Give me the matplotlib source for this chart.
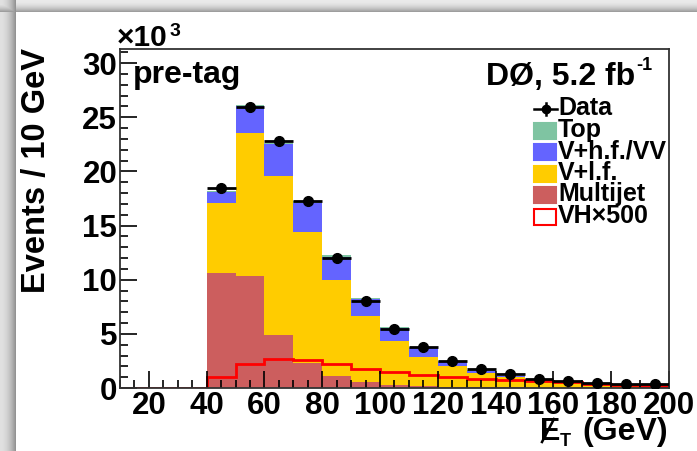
import numpy as np
import matplotlib.pyplot as plt
from matplotlib.patches import Rectangle
from matplotlib.lines import Line2D
from matplotlib.ticker import MultipleLocator

plt.rcParams['font.family'] = ['Liberation Sans', 'DejaVu Sans']
plt.rcParams['font.weight'] = 'bold'

# MET bins (GeV), event counts in units of 10^3
edges = np.arange(40, 201, 10)
data = [18.5, 25.9, 22.8, 17.3, 12.0, 8.06, 5.45, 3.76, 2.49, 1.73, 1.27, 0.86, 0.66, 0.5, 0.41, 0.35]
multijet = [10.6, 10.35, 4.9, 2.28, 1.14, 0.58, 0.25, 0.15, 0.10, 0.07, 0.05, 0.04, 0.03, 0.02, 0.02, 0.01]
vlf = [6.45, 13.15, 14.7, 12.12, 8.83, 6.07, 4.12, 2.68, 1.93, 1.3, 0.92, 0.71, 0.52, 0.40, 0.33, 0.29]
vhf = [1.05, 2.5, 2.9, 2.7, 2.13, 1.55, 1.13, 0.83, 0.37, 0.23, 0.12, 0.08, 0.07, 0.05, 0.04, 0.03]
top = [0.1, 0.15, 0.15, 0.15, 0.2, 0.14, 0.1, 0.09, 0.07, 0.05, 0.04, 0.03, 0.02, 0.02, 0.01, 0.01]
vh_edges = np.arange(10, 201, 10)
vh500 = [0, 0, 0, 1.04, 2.19, 2.71, 2.59, 2.22, 1.78, 1.45, 1.2, 1.04, 0.8, 0.74, 0.65, 0.52, 0.4, 0.28, 0.21]

c_top = '#7fc4a2'
c_vhf = '#6464ff'
c_vlf = '#ffcc00'
c_mj = '#cc5e5e'

W, H = 697, 451
fig = plt.figure(figsize=(W / 100, H / 100), dpi=100)

# drop-shadow border of the screenshot
bg = np.ones((H, W, 3))
for i in range(16):
    bg[:, i, :] = 0.88 - 0.3 * (i / 15) ** 2
for j in range(12):
    v = 0.92 - 0.3 * (j / 11) ** 2
    bg[j, :, :] = np.minimum(bg[j, :, :], v)
fig.figimage(bg, xo=0, yo=0, origin='upper', zorder=-10)

def fx(px):
    return px / W

def fy(py):
    return 1 - py / H

ax = fig.add_axes([fx(120), fy(388), fx(669) - fx(120), fy(49) - fy(388)])

base = np.zeros(len(edges) - 1)
for vals, col in [(multijet, c_mj), (vlf, c_vlf), (vhf, c_vhf), (top, c_top)]:
    vals = np.array(vals)
    ax.stairs(base + vals, edges, baseline=base.copy(), fill=True, color=col, lw=0)
    base = base + vals

ax.stairs(vh500, vh_edges, baseline=0, color='red', lw=2)

centers = edges[:-1] + 5
ax.errorbar(centers, data, xerr=5, fmt='o', color='black', ms=7, lw=2, capsize=0, zorder=5)

ax.set_xlim(10, 200)
ax.set_ylim(0, 31.3)
ax.xaxis.set_major_locator(MultipleLocator(20))
ax.xaxis.set_minor_locator(MultipleLocator(5))
ax.yaxis.set_major_locator(MultipleLocator(5))
ax.yaxis.set_minor_locator(MultipleLocator(1))
ax.tick_params(which='both', direction='in', top=False, right=False, labelsize=22.5)
ax.tick_params(which='major', length=12, width=1.2)
ax.tick_params(which='minor', length=6, width=1.2)
ax.tick_params(axis='y', pad=2)
ax.tick_params(axis='x', pad=2)
for s in ax.spines.values():
    s.set_linewidth(1.3)
    s.set_color('#333333')

# axis titles
fig.text(fx(37), fy(48), 'Events / 10 GeV', rotation=90, ha='center', va='top', fontsize=23.5)
fig.text(fx(540), fy(440), 'E', ha='left', va='baseline', fontsize=22)
fig.add_artist(Line2D([fx(542), fx(554)], [fy(442), fy(419)], color='black', lw=1.8))
fig.text(fx(560), fy(446), 'T', ha='left', va='baseline', fontsize=13)
fig.text(fx(668), fy(440), '(GeV)', ha='right', va='baseline', fontsize=23)

# exponent
fig.text(fx(117), fy(46), '\u00d710', ha='left', va='baseline', fontsize=21.5)
fig.text(fx(170), fy(36), '3', ha='left', va='baseline', fontsize=14)

fig.text(fx(133), fy(83), 'pre-tag', ha='left', va='baseline', fontsize=23)
fig.text(fx(635), fy(85), 'D\u00d8, 5.2 fb', ha='right', va='baseline', fontsize=23)
fig.text(fx(636), fy(70), '-1', ha='left', va='baseline', fontsize=13)

# legend
labels = ['Data', 'Top', 'V+h.f./VV', 'V+l.f.', 'Multijet', 'VH\u00d7500']
fills = [None, c_top, c_vhf, c_vlf, c_mj, 'white']
for i, (lab, col) in enumerate(zip(labels, fills)):
    bl = 115 + 21.6 * i
    fig.text(fx(558), fy(bl), lab, ha='left', va='baseline', fontsize=18)
    cy = bl - 6
    if i == 0:
        fig.add_artist(Line2D([fx(534), fx(557)], [fy(cy), fy(cy)], color='black', lw=1.8))
        fig.add_artist(Line2D([fx(546), fx(546)], [fy(cy - 6), fy(cy + 6)], color='black', lw=1.8))
        fig.add_artist(Line2D([fx(546)], [fy(cy)], marker='o', ms=6, color='black'))
    else:
        ec = 'red' if i == 5 else col
        fig.add_artist(Rectangle((fx(534), fy(cy + 8)), fx(556) - fx(534), fy(cy - 8) - fy(cy + 8),
                                 transform=fig.transFigure, facecolor=col, edgecolor=ec, lw=1.5))

fig.savefig('out.png', dpi=100)
